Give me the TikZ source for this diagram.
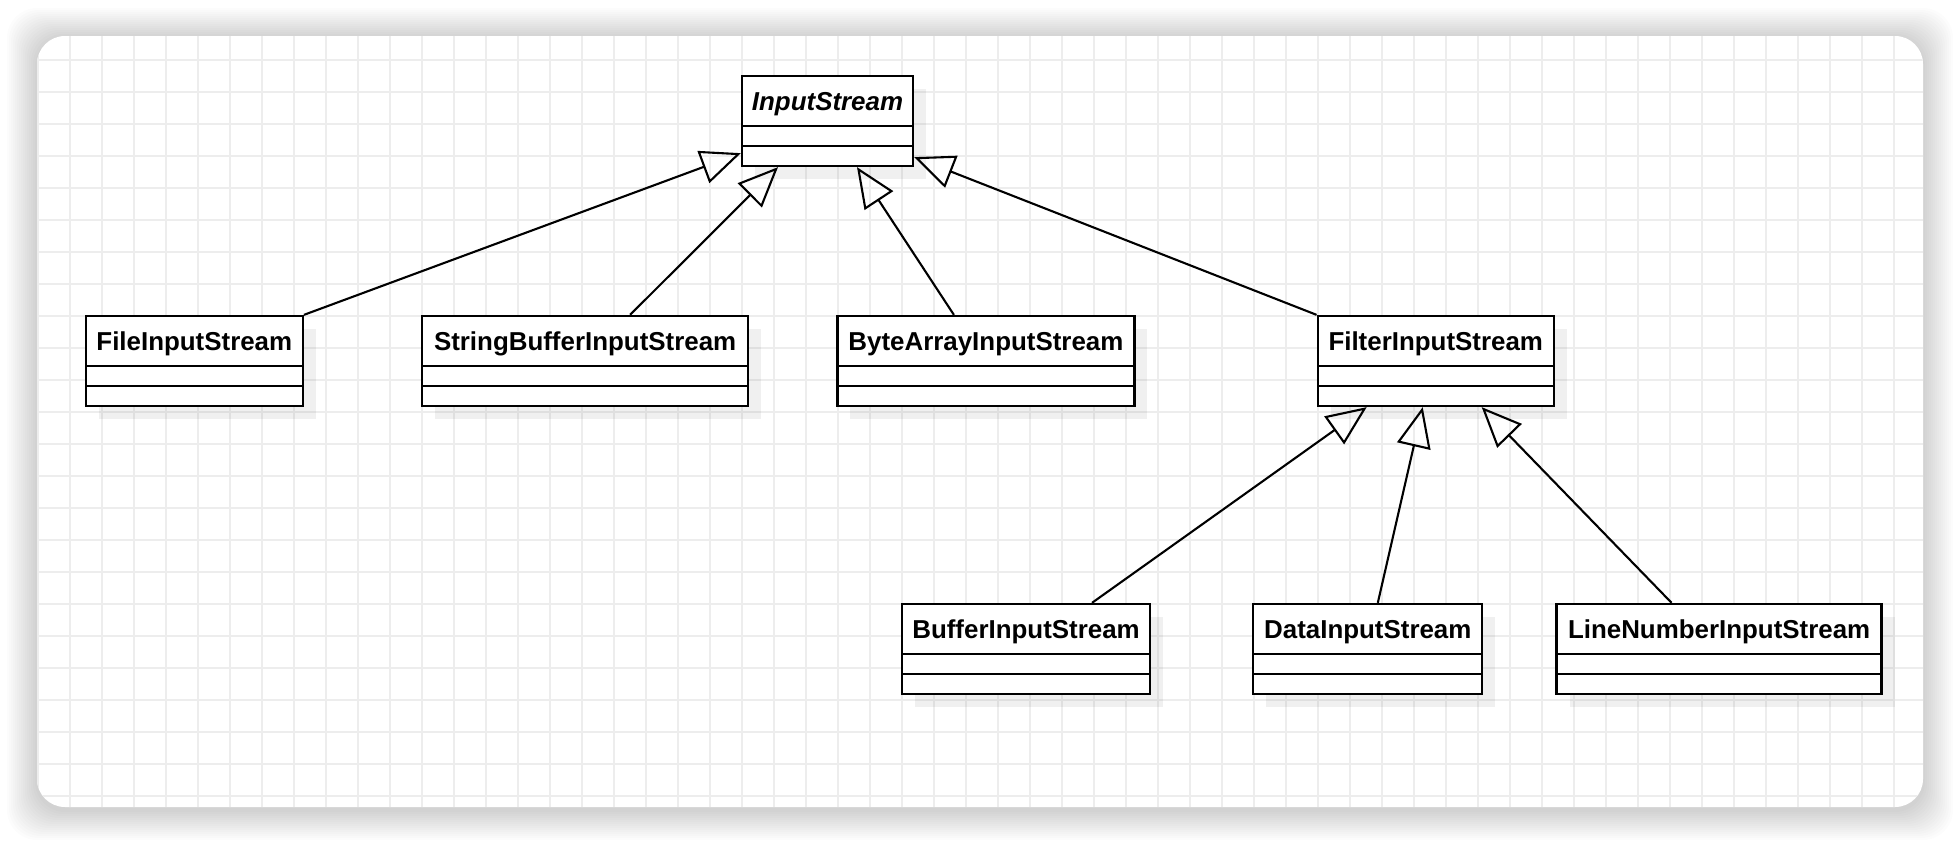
\documentclass[tikz,border=0pt]{standalone}
\usepackage{fontspec}
\setmainfont{Liberation Sans}
\usetikzlibrary{arrows.meta, positioning, shadows}

\begin{document}
\begin{tikzpicture}[
    x=1pt, y=-1pt,
    cls/.style      = {draw, line width=2.3pt, fill=white, minimum height=90pt,
                       inner ysep=0pt, text height=34pt, text depth=56pt,
                       font=\fontsize{25.9pt}{30pt}\selectfont\bfseries,
                       drop shadow={shadow xshift=13pt, shadow yshift=-13pt,
                                    fill=black, opacity=0.06},
                       path picture={
                         \draw[line width=2.3pt]
                           ([yshift=-50pt]path picture bounding box.north west) --
                           ([yshift=-50pt]path picture bounding box.north east)
                           ([yshift=-70pt]path picture bounding box.north west) --
                           ([yshift=-70pt]path picture bounding box.north east);
                       }},
    inh/.style      = {-{Triangle[open, length=40pt, width=34pt]}, line width=2.1pt},
    gridline/.style = {draw=black!7, line width=1.5pt},
  ]
  \useasboundingbox (0,0) rectangle (1960,844);
  % canvas with soft shadow and grid
  \foreach \d in {2,4,...,30}
    \fill[black, opacity=0.012, rounded corners=30pt] ({37-\d},{38-\d}) rectangle ({1923+\d},{810+\d});
  \fill[white, rounded corners=28pt] (37,36) rectangle (1923,807);
  \begin{scope}
    \clip[rounded corners=28pt] (37,36) rectangle (1923,807);
    \foreach \gx in {38,70,...,1923} \draw[gridline] (\gx,36) -- (\gx,807);
    \foreach \gy in {60,92,...,807} \draw[gridline] (37,\gy) -- (1923,\gy);
  \end{scope}

  % classes
  \node[cls, minimum width=171pt] (is) at (827.5,121) {\itshape InputStream};
  \node[cls, minimum width=217pt] (file) at (194.3,361) {FileInputStream};
  \node[cls, minimum width=326pt, right=117pt of file] (sbuf) {StringBufferInputStream};
  \node[cls, minimum width=297pt, right=87pt of sbuf] (bytes) {ByteArrayInputStream};
  \node[cls, minimum width=236pt, right=181pt of bytes] (filter) {FilterInputStream};
  \node[cls, minimum width=248pt] (buffer) at (1026,649) {BufferInputStream};
  \node[cls, minimum width=229pt, right=101pt of buffer] (data) {DataInputStream};
  \node[cls, minimum width=325pt, right=72pt of data] (lineno) {LineNumberInputStream};

  % inheritance
  \draw[inh] (file.north east) -- ([yshift=14pt]is.south west);
  \draw[inh] ([xshift=45pt]sbuf.north) -- ([xshift=-49.5pt]is.south);
  \draw[inh] ([xshift=-32pt]bytes.north) -- ([xshift=29.5pt]is.south);
  \draw[inh] (filter.north west) -- ([yshift=10pt]is.south east);
  \draw[inh] ([xshift=66pt]buffer.north) -- ([xshift=-69pt]filter.south);
  \draw[inh] ([xshift=10pt]data.north) -- ([xshift=-13pt]filter.south);
  \draw[inh] ([xshift=-47.5pt]lineno.north) -- ([xshift=46pt]filter.south);
\end{tikzpicture}
\end{document}
